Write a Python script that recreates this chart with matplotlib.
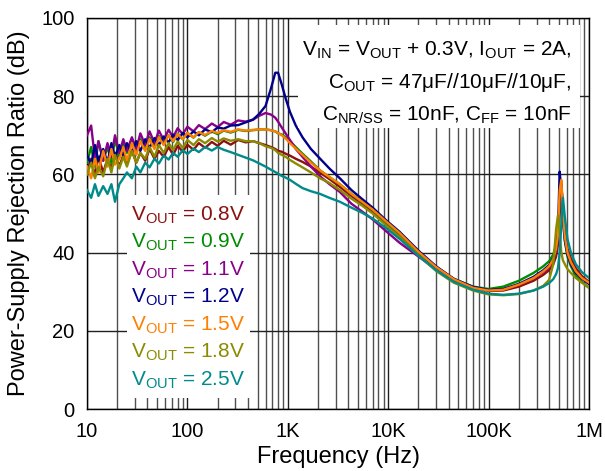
import matplotlib
matplotlib.use('Agg')
import matplotlib.pyplot as plt
from matplotlib.patches import Rectangle

plt.rcParams['font.family'] = ['Liberation Sans', 'DejaVu Sans']
plt.rcParams['mathtext.fontset'] = 'custom'
plt.rcParams['mathtext.rm'] = 'Liberation Sans'
plt.rcParams['mathtext.it'] = 'Liberation Sans:italic'

# frequency points (Hz)
freq = [10, 11, 12, 13, 14.5, 16, 17.5, 19, 21, 23, 25, 28, 31, 34, 38, 42, 47, 52, 58, 65,
        72, 80, 90, 100, 115, 130, 150, 175, 200, 230, 270, 320, 380,
        450, 520, 600, 680, 750, 800, 870, 950, 1050, 1200, 1400, 1700, 2100, 2600, 3300, 4300,
        5500, 7000, 9500, 13000, 20000, 30000, 45000, 70000, 100000, 140000, 200000, 280000,
        350000, 400000, 440000, 470000, 490000, 510000, 530000, 550000, 575000, 610000, 660000,
        740000, 850000, 1000000]

psrr_08 = [61, 64, 59.5, 64.5, 60.5, 64, 61.5, 65.5, 62, 65, 62.5, 66, 63, 65.5, 63.5, 66.5, 64, 66, 64.5, 67,
           65, 67.3, 65.8, 67.6, 66.3, 68, 66.8, 68.3, 67.3, 68.6, 67.6, 68.8, 68.2,
           68.5, 68, 67.5, 67, 66.5, 66, 65.8, 65.3, 64.8, 64, 63.2, 62, 60.4, 58.8, 56.8, 54.5,
           52.5, 50.4, 47.5, 44.5, 39.8, 36, 33, 31, 30.2, 30.3, 31.3, 32.8,
           34.3, 35.5, 37, 39, 42, 50, 57, 52, 45, 41, 38.5,
           36, 34, 32.5]
psrr_09 = [63, 67, 62, 68.5, 63.5, 67, 63, 69, 64.5, 68, 65.5, 69, 66, 69, 66.5, 69.5, 67, 69.8, 68, 70,
           68.3, 70.4, 69, 70.6, 69.4, 70.8, 69.9, 71, 70.3, 71.2, 70.7, 71.4, 71.1,
           71.3, 71.5, 71.5, 71.3, 71, 70.5, 70.2, 69.5, 68.5, 67, 65.3, 63.3, 61, 59.3, 57.5, 55,
           53, 51, 47.8, 44.8, 40.2, 36.3, 33.3, 31.3, 30.7, 31.3, 32.8, 34.8,
           36.5, 37.8, 39.5, 42, 45, 53, 57.5, 50, 43, 39, 36.5,
           34, 32.5, 31]
psrr_11 = [70, 72.5, 64, 68.5, 63.5, 68, 64.5, 70, 65.5, 69, 66, 69.5, 66.5, 70.5, 67.5, 71, 68, 71.2, 68.8, 71.4,
           69.5, 71.8, 70.3, 72.2, 71, 72.6, 71.6, 73, 72.1, 73.4, 72.7, 73.8, 73.5,
           74, 75, 75.7, 75.3, 74.5, 73.5, 72, 70.5, 68.8, 66.5, 64.5, 62, 59.5, 57.5, 55.5, 52.5,
           50.5, 48.5, 45.5, 42.5, 39, 35.7, 33, 31.2, 30.4, 30.6, 31.8, 33.5,
           35, 36.2, 38, 40.5, 44, 54, 58, 51, 44, 40, 37.5,
           35, 33.5, 32]
psrr_12 = [65, 62.5, 67.5, 63.5, 66.5, 63, 68, 64.5, 67.5, 64.8, 68, 65.5, 68.5, 66, 69, 66.8, 69.3, 67.5, 69.7, 68.2,
           70.2, 68.8, 70.6, 69.5, 71, 70, 71.5, 70.8, 72, 71.7, 72.5, 72.6, 73.3,
           74, 75.5, 77.5, 82, 86, 86, 83, 79.5, 76, 72.5, 69.5, 66.5, 64, 61.5, 59, 56,
           53.7, 51.5, 48.3, 45.3, 40.5, 36.5, 33.3, 31.2, 30.4, 30.7, 32, 33.8,
           35.5, 36.8, 38.5, 41, 45, 60.7, 56, 48, 43, 39.5, 37,
           34.8, 33.3, 32]
psrr_15 = [62, 59, 64, 60.5, 66, 62, 66.5, 62.5, 64, 67, 63.5, 68, 65, 68.5, 66, 69, 66.5, 69.5, 67.5, 70,
           68.5, 70.3, 69, 70.6, 69.5, 70.8, 70.1, 71.1, 70.6, 71.3, 70.9, 71.5, 71.2,
           71.4, 71.5, 71.5, 71.3, 71, 70.6, 70, 69.2, 68, 66.6, 65, 63, 61, 59.3, 57.5, 55,
           53, 51, 48, 45, 40.2, 36.3, 33.2, 31, 30.3, 30.5, 31.8, 33.5,
           35.2, 36.5, 38.3, 41, 44.5, 56, 58.6, 50, 44, 40, 37.5,
           35.2, 33.5, 32.3]
psrr_18 = [60, 63, 59, 62, 59.5, 64, 60.5, 65, 61.5, 64.5, 62, 66, 63, 65.5, 64, 67, 64.5, 67.5, 65.5, 68,
           66.3, 68.4, 66.8, 68.8, 67.5, 69, 68, 69.3, 68.4, 69.2, 68.6, 69, 68.5,
           68.5, 68, 67.2, 66.8, 66.2, 65.5, 65, 64.5, 63.7, 62.8, 61.8, 60.5, 59, 57.8, 56, 53.8,
           52, 50, 47, 44, 39.3, 35.3, 32.3, 30.3, 29.3, 29.1, 29.4, 30.3,
           31.5, 33, 37, 46, 49.5, 45, 40, 38, 37, 35.8, 34.8,
           33.5, 32.3, 31]
psrr_25 = [56, 54, 57.5, 54.5, 57, 55, 57.5, 53, 57.5, 59, 60.5, 59, 62, 60.5, 63, 61.8, 64, 62.8, 64.8, 63.8,
           65.5, 64.5, 66.2, 65.2, 66.6, 65.7, 67, 66.1, 67, 66.3, 65.7, 65, 64.3,
           63.6, 62.8, 62, 61.2, 60.6, 60.2, 59.6, 59.2, 58.6, 57.6, 56.5, 55.7, 55, 54, 53, 51.5,
           50.2, 48.7, 46.3, 43.5, 39.2, 35.5, 32.5, 30.5, 29.5, 29.2, 29.5, 30.3,
           31.3, 32.2, 33.2, 34.5, 36, 40, 47, 54, 49, 43.5, 40,
           37, 35, 33.5]

series = [psrr_08, psrr_09, psrr_11, psrr_12, psrr_15, psrr_18, psrr_25]
labels = ['0.8V', '0.9V', '1.1V', '1.2V', '1.5V', '1.8V', '2.5V']
colors = ['#8B1010', '#008C00', '#8B008B', '#00008B', '#FF7F00', '#8B8B00', '#008B8B']

fig = plt.figure(figsize=(6.05, 4.71), dpi=100)
ax = fig.add_axes([0.1438, 0.1316, 0.8298, 0.8302])

for y, c in zip(series, colors):
    ax.plot(freq, y, color=c, lw=1.7, zorder=3)

ax.set_xscale('log')
ax.set_xlim(10, 1e6)
ax.set_ylim(0, 100)
ax.set_xticks([10, 100, 1e3, 1e4, 1e5, 1e6])
ax.set_xticklabels(['10', '100', '1K', '10K', '100K', '1M'])
ax.set_yticks([0, 20, 40, 60, 80, 100])
ax.tick_params(which='both', length=0, labelsize=14.5, pad=9)
ax.grid(True, which='major', color='#202020', lw=1)
ax.grid(True, which='minor', axis='x', color='#505050', lw=1)
for s in ax.spines.values():
    s.set_linewidth(1)
ax.set_xlabel('Frequency (Hz)', fontsize=17, labelpad=4)
ax.set_ylabel('Power-Supply Rejection Ratio (dB)', fontsize=17, labelpad=8)

# white boxes behind the texts
ax.add_patch(Rectangle((0.0797, 0.028), 0.245, 0.519, transform=ax.transAxes,
                       facecolor='white', edgecolor='none', zorder=4))
ax.add_patch(Rectangle((0.42, 0.719), 0.562, 0.263, transform=ax.transAxes,
                       facecolor='white', edgecolor='none', zorder=4))

leg_y = [49.6, 42.6, 35.5, 28.5, 21.5, 14.4, 7.4]
for lab, c, yy in zip(labels, colors, leg_y):
    ax.text(27.4, yy, r'V$_{\mathrm{OUT}}$ = ' + lab, color=c, fontsize=15,
            va='center', ha='left', zorder=5)

note = [r'V$_{\mathrm{IN}}$ = V$_{\mathrm{OUT}}$ + 0.3V, I$_{\mathrm{OUT}}$ = 2A,',
        r'C$_{\mathrm{OUT}}$ = 47μF//10μF//10μF,',
        r'C$_{\mathrm{NR/SS}}$ = 10nF, C$_{\mathrm{FF}}$ = 10nF']
for t, yy in zip(note, [91.8, 83.5, 75.2]):
    ax.text(6.7e5, yy, t, fontsize=15, va='center', ha='right', zorder=5)

fig.savefig('out.png', dpi=100)
